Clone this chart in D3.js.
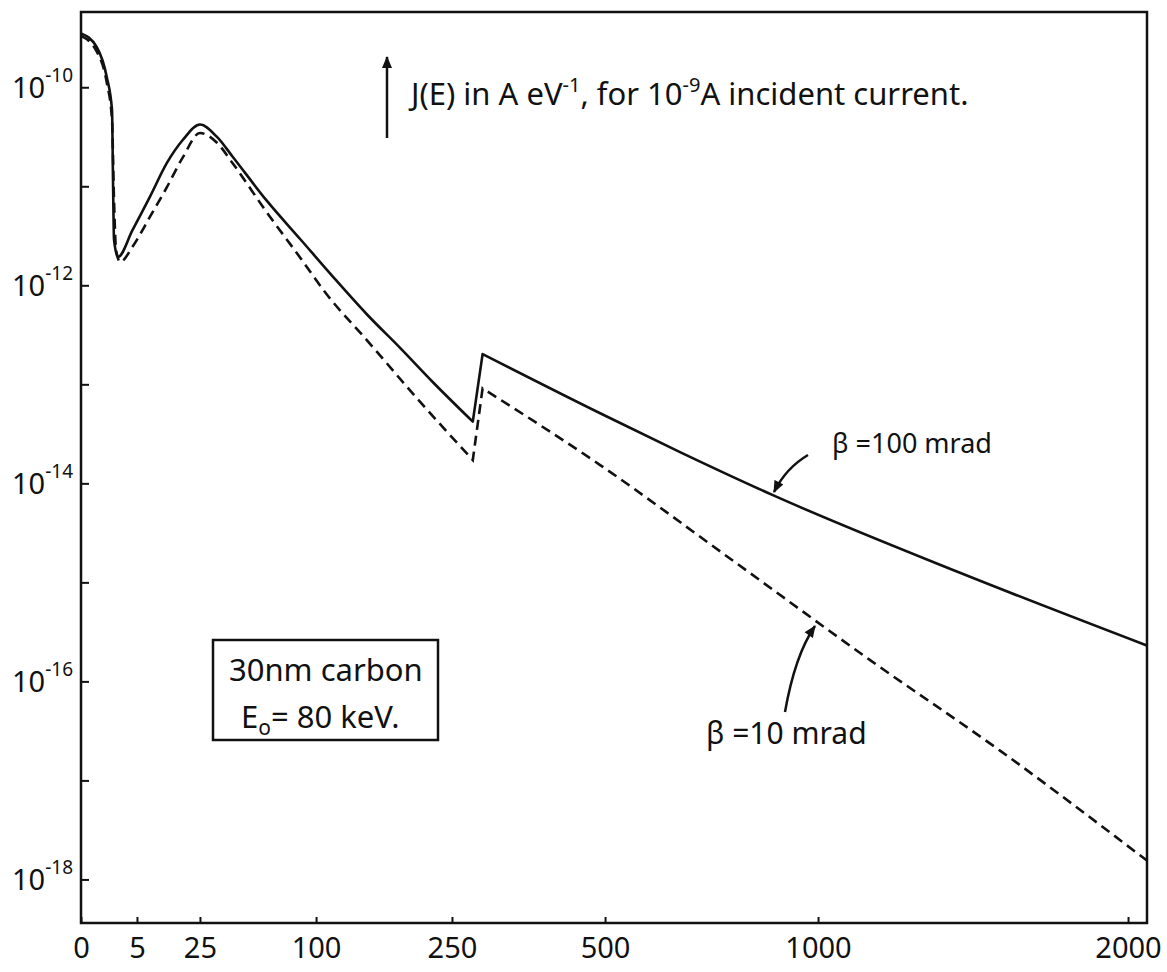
<!DOCTYPE html>
<html>
<head>
<meta charset="utf-8">
<script src="https://d3js.org/d3.v7.min.js"></script>
<style>
  body { margin: 0; background: #fff; }
  text { font-family: "Noto Sans", "DejaVu Sans", sans-serif; fill: #111; }
</style>
</head>
<body>
<div id="chart"></div>
<script>
// energy loss ticks (eV) - the axis is not uniform, each tick has its own spot
var xTickValues = [0, 5, 25, 100, 250, 500, 1000, 2000];
// decade ticks on the J(E) axis, labels on every second one
var yTickExponents = [-10, -11, -12, -13, -14, -15, -16, -17, -18];
var yLabelExponents = [-10, -12, -14, -16, -18];

// carbon K edge: the curves jump here, so they are drawn with sharp corners
var edgeEnergies = [284, 300];

// beta = 100 mrad (solid)
var energy100 = [0, 1.4, 2.3, 2.77, 2.86, 2.95, 3.3, 4.6, 9.1, 14.5, 19.6, 25, 36, 46, 68, 90, 119, 156, 193, 229, 284, 300, 492, 676, 894, 1458, 2061];
var current100 = [3.5e-10, 2.55e-10, 1.27e-10, 5.9e-11, 1.15e-11, 2.9e-12, 1.93e-12, 3.6e-12, 7.8e-12, 1.72e-11, 2.95e-11, 4.2e-11, 3.15e-11, 2.0e-11, 7.2e-12, 2.9e-12, 1.21e-12, 5.1e-13, 2.32e-13, 1.05e-13, 4.2e-14, 2.02e-13, 5.1e-14, 2.07e-14, 7.6e-15, 1.25e-15, 2.3e-16];

// beta = 10 mrad (dashed)
var energy10 = [0, 1.4, 2.3, 2.77, 2.95, 3.13, 3.5, 4.6, 9.1, 14.5, 19.6, 25, 36, 46, 68, 90, 110, 156, 211, 284, 300, 492, 805, 1168, 1587, 2061];
var current10 = [3.3e-10, 2.3e-10, 1.12e-10, 4.7e-11, 7.2e-12, 2.3e-12, 1.72e-12, 2.45e-12, 4.9e-12, 9.8e-12, 1.97e-11, 3.45e-11, 2.75e-11, 1.72e-11, 5.5e-12, 1.88e-12, 8.5e-13, 2.8e-13, 7.3e-14, 1.72e-14, 9.1e-14, 1.53e-14, 1.6e-15, 1.64e-16, 2.0e-17, 1.55e-18];

var svgWidth = 1167;
var svgHeight = 972;

var margin = {top: 12, right: 20, bottom: 49, left: 81},
  width = svgWidth - margin.left - margin.right,
  height = svgHeight - margin.top - margin.bottom;

var svg = d3.select("#chart")
  .append("svg")
  .attr("width", svgWidth)
  .attr("height", svgHeight);

svg.append("rect")
  .attr("width", svgWidth)
  .attr("height", svgHeight)
  .attr("fill", "#fff");

var chartGroup = svg.append("g")
  .attr("transform", `translate(${margin.left}, ${margin.top})`);

// where each energy tick sits, as a share of the plot width
var xTickShare = [0, 0.0525, 0.1116, 0.2205, 0.348, 0.4916, 0.6914, 0.9822];

var xScale = d3.scaleLinear()
  .domain(xTickValues)
  .range(xTickShare.map(s => s * width));

var yScale = d3.scaleLog()
  .domain([Math.pow(10, -9.24), Math.pow(10, -18.44)])
  .range([0, height]);

// arrow heads
var defs = svg.append("defs");
defs.append("marker")
  .attr("id", "head")
  .attr("viewBox", "0 0 12 10")
  .attr("refX", 11)
  .attr("refY", 5)
  .attr("markerWidth", 13)
  .attr("markerHeight", 10)
  .attr("markerUnits", "userSpaceOnUse")
  .attr("orient", "auto")
  .append("path")
  .attr("d", "M0,0 L12,5 L0,10 Z")
  .attr("fill", "#111");

// y axis ticks (inward)
var leftAxis = d3.axisLeft(yScale)
  .tickValues(yTickExponents.map(e => Math.pow(10, e)))
  .tickSize(-8)
  .tickFormat("");

chartGroup.append("g")
  .call(leftAxis)
  .call(g => g.select(".domain").remove())
  .selectAll("line")
  .attr("stroke", "#111")
  .attr("stroke-width", 2);

// x axis ticks (inward) and labels
var bottomAxis = d3.axisBottom(xScale)
  .tickValues(xTickValues)
  .tickSize(-6)
  .tickPadding(14)
  .tickFormat(d3.format("d"));

var xAxis = chartGroup.append("g")
  .attr("transform", `translate(0, ${height})`)
  .call(bottomAxis)
  .call(g => g.select(".domain").remove());

xAxis.selectAll("line")
  .attr("stroke", "#111")
  .attr("stroke-width", 2);

xAxis.selectAll("text")
  .attr("font-size", "29px")
  .attr("font-family", "'Noto Sans', 'DejaVu Sans', sans-serif")
  .style("fill", "#111");

// y labels 10^n
var yLabels = chartGroup.append("g")
  .selectAll("text")
  .data(yLabelExponents)
  .enter()
  .append("text")
  .attr("x", -8)
  .attr("y", d => yScale(Math.pow(10, d)) + 11)
  .attr("text-anchor", "end")
  .attr("font-size", "29px");

yLabels.append("tspan").text("10");
yLabels.append("tspan")
  .attr("dy", -16)
  .attr("font-size", "19px")
  .text(d => d);

// frame
chartGroup.append("rect")
  .attr("width", width)
  .attr("height", height)
  .attr("fill", "none")
  .attr("stroke", "#111")
  .attr("stroke-width", 2.5);

// curves: smooth pieces, joined by a straight rise at the K edge
var line = d3.line()
  .x(d => xScale(d[0]))
  .y(d => yScale(d[1]))
  .curve(d3.curveMonotoneX);

function edgePath(energy, current) {
  var pts = d3.zip(energy, current);
  var before = pts.filter(d => d[0] <= edgeEnergies[0]);
  var rise = pts.filter(d => d[0] >= edgeEnergies[0] && d[0] <= edgeEnergies[1]);
  var after = pts.filter(d => d[0] >= edgeEnergies[1]);
  return line(before)
    + line(rise).replace(/^M/, "L")
    + line(after).replace(/^M/, "L");
}

chartGroup.append("path")
  .attr("d", edgePath(energy100, current100))
  .attr("fill", "none")
  .attr("stroke", "#111")
  .attr("stroke-width", 2.6)
  .attr("stroke-linejoin", "round");

chartGroup.append("path")
  .attr("d", edgePath(energy10, current10))
  .attr("fill", "none")
  .attr("stroke", "#111")
  .attr("stroke-width", 2.6)
  .attr("stroke-dasharray", "10,6");

// vertical arrow and J(E) label
svg.append("line")
  .attr("x1", 387).attr("y1", 138)
  .attr("x2", 387).attr("y2", 57)
  .attr("stroke", "#111")
  .attr("stroke-width", 2.5)
  .attr("marker-end", "url(#head)");

var jLabel = svg.append("text")
  .attr("x", 411)
  .attr("y", 105)
  .attr("font-size", "31px");
jLabel.append("tspan").text("J(E) in A eV");
jLabel.append("tspan").attr("dy", -13).attr("font-size", "20px").text("-1");
jLabel.append("tspan").attr("dy", 13).text(", for 10");
jLabel.append("tspan").attr("dy", -13).attr("font-size", "20px").text("-9");
jLabel.append("tspan").attr("dy", 13).text("A incident current.");

// sample box
svg.append("rect")
  .attr("x", 213).attr("y", 640)
  .attr("width", 225).attr("height", 100)
  .attr("fill", "#fff")
  .attr("stroke", "#111")
  .attr("stroke-width", 2.5);

svg.append("text")
  .attr("x", 229).attr("y", 681)
  .attr("font-size", "31px")
  .text("30nm carbon");

var e0 = svg.append("text")
  .attr("x", 241).attr("y", 728)
  .attr("font-size", "31px");
e0.append("tspan").text("E");
e0.append("tspan").attr("dy", 7).attr("font-size", "21px").text("o");
e0.append("tspan").attr("dy", -7).text("= 80 keV.");

// beta labels with their pointers
svg.append("text")
  .attr("x", 832).attr("y", 453)
  .attr("font-size", "27px")
  .text("β =100 mrad");

svg.append("path")
  .attr("d", "M808,455 Q786,468 774,492")
  .attr("fill", "none")
  .attr("stroke", "#111")
  .attr("stroke-width", 2.5)
  .attr("marker-end", "url(#head)");

svg.append("text")
  .attr("x", 706).attr("y", 744)
  .attr("font-size", "30px")
  .text("β =10 mrad");

svg.append("path")
  .attr("d", "M785,712 Q795,655 815,626")
  .attr("fill", "none")
  .attr("stroke", "#111")
  .attr("stroke-width", 2.5)
  .attr("marker-end", "url(#head)");
</script>
</body>
</html>
